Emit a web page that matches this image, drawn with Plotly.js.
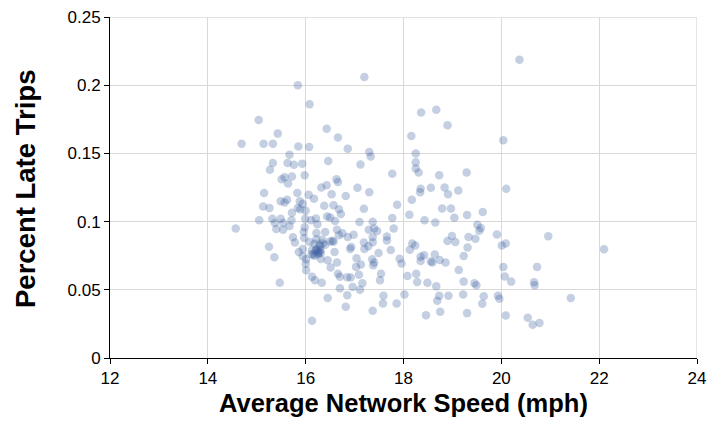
<!DOCTYPE html>
<html>
<head>
<meta charset="utf-8">
<script src="https://cdn.plot.ly/plotly-3.0.1.min.js"></script>
<style>html,body{margin:0;padding:0;background:#fff}#chart{width:714px;height:436px}</style>
</head>
<body>
<div id="chart"></div>
<script>
var speed = [
20.37,17.20,15.84,16.08,18.67,18.36,15.04,18.90,16.43,15.43,18.16,16.66,20.04,14.69,15.14,15.33,15.85,16.07,16.86,17.30,
18.25,15.67,17.33,16.46,15.33,18.25,15.63,15.93,15.76,17.12,18.25,15.27,18.31,19.29,17.77,15.98,18.73,15.72,15.57,15.51,
16.63,16.66,15.64,16.43,16.32,18.56,18.84,17.06,20.10,18.35,19.12,18.34,17.30,15.15,15.83,16.53,16.06,18.91,16.82,16.17,
18.17,15.62,15.88,15.49,15.57,17.87,16.57,15.13,16.38,15.94,15.84,15.26,15.89,18.79,18.97,17.19,16.68,16.00,19.62,15.72,
16.72,18.12,19.30,16.44,16.50,19.04,17.77,16.21,15.99,15.49,15.32,18.43,15.05,16.11,15.71,16.60,17.37,17.10,18.65,15.37,
15.54,16.24,15.67,19.51,15.98,14.57,17.80,17.40,19.58,15.40,15.54,16.64,17.29,19.55,17.46,15.96,16.40,16.22,16.75,19.91,
16.98,16.68,20.96,17.66,18.99,16.86,17.37,15.74,15.97,19.33,19.47,16.22,16.34,17.66,16.50,16.57,18.90,19.06,15.78,16.08,
17.37,17.19,20.09,18.18,16.18,16.40,20.01,18.24,16.30,17.28,15.25,16.93,19.31,16.91,15.94,17.20,22.10,16.23,18.13,17.74,
16.13,16.28,15.86,16.31,16.59,17.49,18.64,16.16,18.42,19.23,18.35,15.36,15.94,17.04,17.92,16.01,16.31,17.36,16.45,18.74,
18.35,18.56,17.40,18.59,16.64,18.86,17.96,16.00,17.38,17.13,17.03,20.73,20.04,16.51,16.01,19.13,16.66,17.54,17.09,18.26,
18.08,20.07,16.13,16.70,16.92,16.85,16.19,17.52,20.20,18.28,19.23,18.49,15.47,16.33,17.16,19.45,20.67,20.68,19.49,18.67,
16.96,16.70,17.11,18.02,19.22,16.85,18.92,19.64,18.73,19.93,17.59,16.45,21.42,19.96,18.69,17.86,19.61,17.58,16.82,17.37,
18.75,19.30,18.46,20.09,20.54,16.13,20.78,20.64,16.20,16.25,16.22,16.28,16.18,16.30,16.26,16.35,16.12,16.55
];
var lateShare = [
0.2186,0.2060,0.2000,0.1860,0.1820,0.1800,0.1745,0.1706,0.1680,0.1645,0.1628,0.1616,0.1596,0.1570,0.1570,0.1570,0.1550,0.1547,0.1535,0.1510,
0.1500,0.1490,0.1477,0.1445,0.1430,0.1435,0.1430,0.1425,0.1416,0.1418,0.1390,0.1380,0.1360,0.1360,0.1350,0.1340,0.1340,0.1330,0.1326,0.1310,
0.1310,0.1290,0.1280,0.1267,0.1250,0.1248,0.1250,0.1248,0.1240,0.1240,0.1228,0.1216,0.1216,0.1210,0.1210,0.1200,0.1196,0.1200,0.1187,0.1167,
0.1160,0.1160,0.1150,0.1150,0.1140,0.1123,0.1120,0.1110,0.1116,0.1130,0.1100,0.1100,0.1090,0.1096,0.1096,0.1094,0.1090,0.1080,0.1070,0.1065,
0.1055,0.1050,0.1048,0.1038,0.1030,0.1028,0.1026,0.1023,0.1020,0.1020,0.1020,0.1010,0.1010,0.1010,0.1010,0.1004,0.0999,0.0997,0.0994,0.0990,
0.0990,0.0980,0.0967,0.0977,0.0958,0.0950,0.0950,0.0950,0.0953,0.0945,0.0940,0.0940,0.0940,0.0933,0.0931,0.0923,0.0923,0.0916,0.0914,0.0906,
0.0904,0.0900,0.0892,0.0890,0.0894,0.0887,0.0887,0.0885,0.0880,0.0887,0.0875,0.0870,0.0867,0.0862,0.0855,0.0853,0.0858,0.0850,0.0846,0.0850,
0.0848,0.0846,0.0840,0.0840,0.0838,0.0830,0.0824,0.0824,0.0820,0.0819,0.0816,0.0814,0.0811,0.0800,0.0800,0.0800,0.0797,0.0792,0.0794,0.0792,
0.0790,0.0780,0.0777,0.0770,0.0777,0.0770,0.0758,0.0758,0.0753,0.0748,0.0743,0.0738,0.0746,0.0731,0.0728,0.0724,0.0726,0.0724,0.0716,0.0719,
0.0711,0.0707,0.0700,0.0700,0.0700,0.0700,0.0692,0.0690,0.0680,0.0685,0.0668,0.0668,0.0668,0.0663,0.0643,0.0646,0.0617,0.0617,0.0610,0.0617,
0.0602,0.0597,0.0595,0.0595,0.0590,0.0592,0.0570,0.0570,0.0560,0.0558,0.0560,0.0551,0.0551,0.0551,0.0548,0.0548,0.0556,0.0534,0.0534,0.0526,
0.0520,0.0512,0.0500,0.0465,0.0465,0.0460,0.0456,0.0453,0.0456,0.0456,0.0456,0.0440,0.0440,0.0434,0.0420,0.0400,0.0397,0.0400,0.0375,0.0346,
0.0339,0.0329,0.0314,0.0312,0.0295,0.0273,0.0256,0.0244,0.0780,0.0760,0.0800,0.0830,0.0750,0.0790,0.0770,0.0840,0.0760,0.0860
];
var xTicks = [12,14,16,18,20,22,24];
var yTicks = [0,0.05,0.1,0.15,0.2,0.25];
var yTickText = ['0','0.05','0.1','0.15','0.2','0.25'];
var xTitle = 'Average Network Speed (mph)';
var yTitle = 'Percent Late Trips';

var trace = {
  type: 'scatter', mode: 'markers', x: speed, y: lateShare,
  marker: {size: 8.5, color: 'rgba(58,95,158,0.3)', line: {width: 0}},
  hoverinfo: 'x+y'
};
var font = 'Arial, "Liberation Sans", sans-serif';
var layout = {
  width: 714, height: 436,
  margin: {l: 110, r: 17, t: 17, b: 78},
  paper_bgcolor: '#fff', plot_bgcolor: '#fff',
  showlegend: false,
  font: {family: font, size: 17, color: '#000'},
  xaxis: {
    range: [12, 24], tickvals: xTicks, ticktext: xTicks.map(String),
    showgrid: true, gridcolor: '#d9d9d9', gridwidth: 1.3,
    showline: true, linecolor: '#000', linewidth: 1,
    ticks: 'outside', ticklen: 5, tickcolor: '#000', tickwidth: 1,
    zeroline: false, mirror: false,
    tickfont: {family: font, size: 17, color: '#000'}
  },
  yaxis: {
    range: [0, 0.25], tickvals: yTicks, ticktext: yTickText,
    showgrid: true, gridcolor: '#d9d9d9', gridwidth: 1.3,
    showline: true, linecolor: '#000', linewidth: 1,
    ticks: 'outside', ticklen: 5, tickcolor: '#000', tickwidth: 1,
    zeroline: false,
    tickfont: {family: font, size: 17, color: '#000'}
  },
  annotations: [
    {text: xTitle, xref: 'paper', yref: 'paper', x: 0.5, y: -0.131, xanchor: 'center', yanchor: 'middle',
     showarrow: false, font: {family: font, size: 25.5, color: '#000', weight: 'bold'}},
    {text: yTitle, xref: 'paper', yref: 'paper', x: -0.1448, y: 0.4956, xanchor: 'center', yanchor: 'middle',
     textangle: -90, showarrow: false, font: {family: font, size: 27.5, color: '#000', weight: 'bold'}}
  ],
  shapes: [
    {type: 'line', xref: 'x', yref: 'y', x0: 24, x1: 24, y0: 0, y1: 0.25, line: {color: '#d9d9d9', width: 1.3}, layer: 'below'},
    {type: 'line', xref: 'x', yref: 'y', x0: 12, x1: 24, y0: 0.25, y1: 0.25, line: {color: '#d9d9d9', width: 1.3}, layer: 'below'}
  ]
};
Plotly.newPlot('chart', [trace], layout, {displayModeBar: false, staticPlot: true});
</script>
</body>
</html>
